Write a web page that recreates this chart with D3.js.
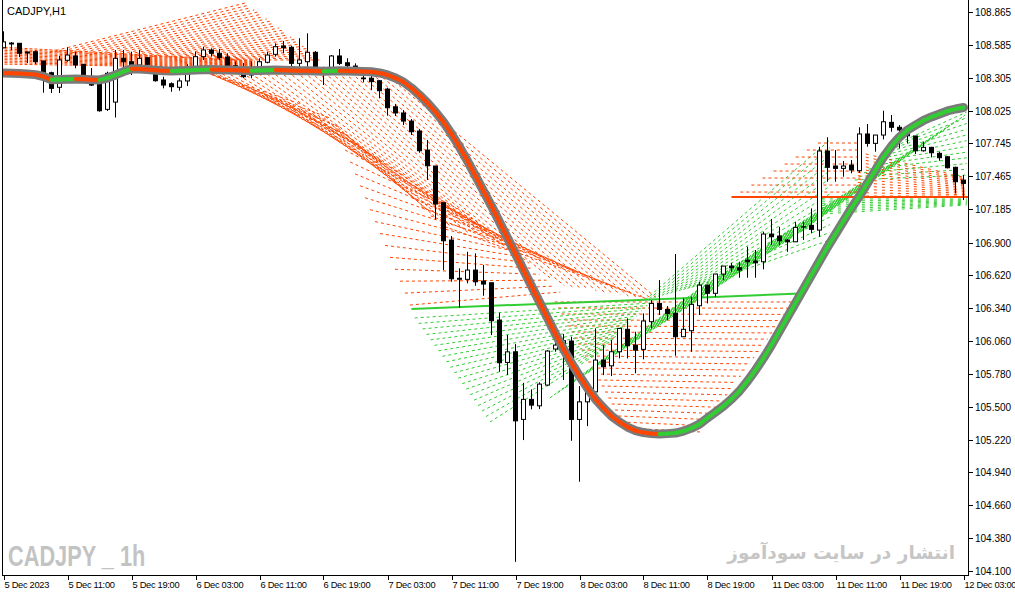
<!DOCTYPE html>
<html><head><meta charset="utf-8">
<script src="https://cdn.jsdelivr.net/npm/d3@7"></script>
<style>body{margin:0;background:#fff}svg{display:block}</style></head>
<body>
<svg id="c" width="1015" height="596"></svg>
<script>
// ---------------- data ----------------
const timeLabels=["5 Dec 2023","5 Dec 11:00","5 Dec 19:00","6 Dec 03:00","6 Dec 11:00","6 Dec 19:00","7 Dec 03:00","7 Dec 11:00","7 Dec 19:00","8 Dec 03:00","8 Dec 11:00","8 Dec 19:00","11 Dec 03:00","11 Dec 11:00","11 Dec 19:00","12 Dec 03:00"];
const priceTicks=["108.865","108.585","108.305","108.025","107.745","107.465","107.185","106.900","106.620","106.340","106.060","105.780","105.500","105.220","104.940","104.660","104.380","104.100"];
const open=[108.56,108.600,108.598,108.524,108.526,108.447,108.347,108.223,108.453,108.490,108.419,108.271,108.251,108.035,108.097,108.470,108.441,108.413,108.475,108.347,108.285,108.253,108.223,108.277,108.396,108.484,108.541,108.513,108.481,108.407,108.347,108.328,108.398,108.436,108.504,108.575,108.564,108.427,108.441,108.521,108.387,108.379,108.490,108.432,108.404,108.302,108.300,108.279,108.208,108.057,108.004,107.935,107.850,107.688,107.552,107.239,106.921,106.595,106.586,106.665,106.571,106.557,106.239,105.878,105.968,105.392,105.563,105.508,105.685,105.992,106.026,106.060,105.392,105.542,105.627,105.898,105.849,105.969,106.160,106.026,105.989,106.225,106.381,106.330,106.296,106.097,106.148,106.361,106.537,106.467,106.631,106.699,106.685,106.750,106.742,106.736,106.972,106.955,106.921,106.906,107.034,107.046,107.006,107.680,107.552,107.532,107.560,107.512,107.825,107.745,107.816,107.924,107.882,107.853,107.808,107.682,107.711,107.660,107.631,107.541,107.432];
const high=[108.70,108.609,108.600,108.528,108.535,108.451,108.356,108.490,108.564,108.526,108.421,108.387,108.259,108.356,108.541,108.541,108.526,108.541,108.481,108.356,108.313,108.265,108.300,108.419,108.526,108.569,108.555,108.549,108.513,108.441,108.430,108.441,108.470,108.526,108.598,108.617,108.577,108.641,108.683,108.532,108.398,108.498,108.549,108.470,108.427,108.342,108.342,108.285,108.219,108.080,108.029,107.952,107.867,107.774,107.552,107.239,106.955,106.680,106.821,106.808,106.708,106.557,106.301,106.111,106.034,105.704,105.648,105.708,105.983,106.045,106.120,106.097,105.676,105.699,106.168,106.026,106.068,106.168,106.253,106.139,106.296,106.410,106.580,106.358,106.802,106.424,106.438,106.566,106.537,106.631,106.699,106.727,106.736,106.864,106.836,106.992,107.100,107.034,106.930,107.077,107.077,107.191,107.716,107.797,107.688,107.594,107.603,107.882,107.910,107.816,108.023,107.987,107.901,107.865,107.808,107.759,107.716,107.674,107.637,107.546,107.475];
const low=[108.555,108.541,108.481,108.430,108.421,108.177,108.174,108.174,108.441,108.385,108.313,108.234,108.015,108.021,107.965,108.328,108.328,108.396,108.398,108.271,108.214,108.185,108.194,108.234,108.387,108.456,108.484,108.456,108.398,108.387,108.302,108.300,108.385,108.427,108.484,108.513,108.398,108.398,108.398,108.356,108.242,108.370,108.413,108.390,108.334,108.265,108.200,108.129,107.981,107.978,107.901,107.816,107.665,107.433,107.097,106.665,106.566,106.344,106.552,106.531,106.446,106.111,105.798,105.770,104.178,105.216,105.478,105.480,105.676,105.969,105.728,105.210,104.861,105.335,105.627,105.770,105.762,105.912,105.912,105.785,105.904,106.168,106.282,106.239,105.935,106.094,105.969,106.282,106.381,106.438,106.580,106.651,106.600,106.600,106.600,106.671,106.878,106.878,106.821,106.906,106.921,106.978,106.949,107.418,107.418,107.461,107.490,107.495,107.716,107.674,107.779,107.844,107.703,107.745,107.654,107.674,107.626,107.597,107.532,107.319,107.262];
const close=[108.61,108.592,108.513,108.515,108.441,108.336,108.214,108.456,108.498,108.413,108.328,108.242,108.023,108.342,108.470,108.441,108.404,108.470,108.419,108.279,108.242,108.228,108.277,108.390,108.484,108.541,108.513,108.475,108.407,108.390,108.313,108.362,108.441,108.498,108.569,108.560,108.427,108.456,108.521,108.370,108.379,108.490,108.427,108.407,108.385,108.296,108.271,108.194,108.049,108.004,107.935,107.844,107.682,107.554,107.228,106.915,106.591,106.587,106.665,106.565,106.546,106.233,105.875,105.968,105.380,105.563,105.514,105.693,105.975,106.026,106.063,105.392,105.542,105.627,105.898,105.841,105.969,106.168,106.020,105.983,106.231,106.381,106.330,106.296,106.097,106.160,106.373,106.537,106.467,106.631,106.699,106.685,106.665,106.736,106.727,106.972,106.949,106.915,106.906,107.029,107.032,107.012,107.680,107.541,107.532,107.552,107.518,107.825,107.745,107.816,107.929,107.882,107.859,107.810,107.682,107.711,107.665,107.623,107.537,107.418,107.404];
// smoothed trend line (one value per bar)
const trend=[108.345,108.342,108.340,108.336,108.331,108.315,108.287,108.289,108.292,108.294,108.291,108.288,108.286,108.302,108.328,108.357,108.380,108.379,108.374,108.369,108.364,108.362,108.364,108.367,108.370,108.372,108.374,108.372,108.370,108.368,108.366,108.365,108.367,108.369,108.371,108.369,108.367,108.365,108.363,108.361,108.360,108.362,108.364,108.362,108.360,108.358,108.355,108.345,108.328,108.302,108.268,108.217,108.157,108.089,108.012,107.927,107.825,107.714,107.594,107.467,107.339,107.211,107.074,106.938,106.802,106.665,106.529,106.392,106.256,106.120,105.992,105.872,105.762,105.659,105.565,105.489,105.421,105.370,105.327,105.297,105.280,105.271,105.267,105.271,105.276,105.293,105.318,105.352,105.404,105.455,105.506,105.565,105.634,105.719,105.813,105.915,106.026,106.145,106.265,106.384,106.503,106.623,106.742,106.861,106.972,107.083,107.194,107.296,107.407,107.518,107.629,107.722,107.799,107.859,107.901,107.940,107.970,107.995,108.021,108.038,108.051];
// straight levels: [startBar, startPrice, endBar, endPrice]
const levelUp=[51,106.333,99.6,106.465];
const levelDown=[91,107.288,120.6,107.288];
// projection fans: from-edge and to-edge as [bar,price] polylines, line count, direction, kind
const fanFrom=[
 [[5.8,108.524],[28.6,108.456]],
 [[-0.5,108.566],[-0.5,108.421]],
 [[23.9,108.387],[37.1,108.353],[47.7,108.336]],
 [[23.9,108.387],[40.8,107.944],[54.6,107.049]],
 [[42.7,107.688],[50.8,106.367]],
 [[68.9,106.393],[77.7,105.319]],
 [[51.4,106.257],[60.8,105.370]],
 [[68.3,105.575],[99.6,106.990]],
 [[80.2,106.410],[87.1,106.538]],
 [[106.4,107.433],[112.7,107.774]],
 [[92.1,107.330],[101.8,107.748]],
 [[106.8,107.671],[106.8,107.296]],
 [[102.3,107.271],[102.3,107.143]]
];
const fanTo=[
 [[30.2,108.941],[39.8,108.456]],
 [[31.4,108.447],[31.4,108.387]],
 [[37.1,108.081],[69.6,106.538],[82.1,106.401]],
 [[40.8,107.961],[54.6,107.075],[80.8,106.410]],
 [[58.3,107.134],[69.6,106.478]],
 [[98.9,106.393],[87.1,105.285]],
 [[80.8,106.384],[74.6,105.967]],
 [[87.1,106.512],[120.2,107.987]],
 [[103.3,107.774],[103.3,106.921]],
 [[120.4,107.475],[120.4,108.012]],
 [[107.1,107.330],[107.1,107.748]],
 [[120.4,107.450],[120.4,107.296]],
 [[120.4,107.271],[120.4,107.220]]
];
const fanCount=[26,12,26,24,14,22,20,34,14,12,8,14,8];
const fanDir=["down","down","down","down","down","down","up","up","up","up","down","down","up"];
const fanKind=["ray","band","ray","band","ray","ray","ray","band","ray","ray","ray","hatch","hatch"];

// ---------------- drawing ----------------
const svg=d3.select("#c");
const x=d3.scaleLinear().domain([0,120]).range([3.5,963.5]);
const y=d3.scaleLinear().domain([104.066,108.967]).range([575,0]);
const ORANGE="#FF4500",GREEN="#32CD32",GRAY="#7a7a7a";
const col=d=>d==="up"?GREEN:ORANGE;
const dashOf={ray:"3,3",band:"3,2",hatch:"3,5"};

svg.append("clipPath").attr("id","clip").append("rect").attr("x",3).attr("y",0).attr("width",965).attr("height",575);
const g=svg.append("g").attr("clip-path","url(#clip)");

// fans
function along(poly,t){
  const m=poly.length-1,s=t*m,k=Math.min(Math.floor(s),m-1),f=s-k,a=poly[k],b=poly[k+1];
  return [a[0]+(b[0]-a[0])*f,a[1]+(b[1]-a[1])*f];
}
fanFrom.forEach((fr,k)=>{
  const to=fanTo[k],n=fanCount[k];
  const lines=d3.range(n).map(j=>{const t=j/(n-1);return [along(fr,t),along(to,t)];});
  g.append("g").selectAll("line").data(lines).join("line")
   .attr("x1",d=>x(d[0][0])).attr("y1",d=>y(d[0][1]))
   .attr("x2",d=>x(d[1][0])).attr("y2",d=>y(d[1][1]))
   .attr("stroke",col(fanDir[k])).attr("stroke-width",1).attr("stroke-dasharray",dashOf[fanKind[k]]);
});
// levels
[[levelUp,"up"],[levelDown,"down"]].forEach(([l,d])=>{
  g.append("line").attr("x1",x(l[0])).attr("y1",y(l[1])).attr("x2",x(l[2])).attr("y2",y(l[3]))
   .attr("stroke",col(d)).attr("stroke-width",2);
});
// candles
const idx=d3.range(open.length);
const cg=g.append("g");
cg.selectAll("line.w").data(idx).join("line").attr("class","w")
  .attr("x1",i=>x(i)).attr("x2",i=>x(i)).attr("y1",i=>y(high[i])).attr("y2",i=>y(low[i]))
  .attr("stroke","#000").attr("stroke-width",1);
cg.selectAll("rect").data(idx).join("rect")
  .attr("x",i=>x(i)-2).attr("width",4)
  .attr("y",i=>y(Math.max(open[i],close[i])))
  .attr("height",i=>Math.max(0.01,Math.abs(y(open[i])-y(close[i]))))
  .attr("fill",i=>close[i]>=open[i]?"#fff":"#000")
  .attr("stroke","#000").attr("stroke-width",1);
// trend line
const ln=d3.line().x((d,i)=>x(i)).y(d=>y(d));
g.append("path").attr("d",ln(trend)).attr("fill","none").attr("stroke",GRAY).attr("stroke-width",9).attr("stroke-linejoin","round").attr("stroke-linecap","round");
const segs=d3.range(1,trend.length).map(i=>({i,up:trend[i]>=trend[i-1]}));
g.append("g").selectAll("line").data(segs).join("line")
  .attr("x1",d=>x(d.i-1)).attr("y1",d=>y(trend[d.i-1])).attr("x2",d=>x(d.i)).attr("y2",d=>y(trend[d.i]))
  .attr("stroke",d=>d.up?GREEN:ORANGE).attr("stroke-width",4).attr("stroke-linecap","round");

// frame
svg.append("line").attr("x1",2.5).attr("x2",2.5).attr("y1",0).attr("y2",575.5).attr("stroke","#000");
svg.append("line").attr("x1",968.5).attr("x2",968.5).attr("y1",0).attr("y2",575.5).attr("stroke","#000");
svg.append("line").attr("x1",2).attr("x2",969).attr("y1",575.5).attr("y2",575.5).attr("stroke","#000");

// price axis
const pa=svg.append("g");
priceTicks.forEach(t=>{
  const yy=Math.round(y(+t))+0.5;
  pa.append("line").attr("x1",969).attr("x2",973).attr("y1",yy).attr("y2",yy).attr("stroke","#000");
  pa.append("text").attr("x",975).attr("y",yy).attr("dy","0.35em").text(t)
    .attr("font-family","Liberation Sans, Arial, sans-serif").attr("font-size",10).attr("fill","#000");
});
// time axis
const ta=svg.append("g");
timeLabels.forEach((t,k)=>{
  const xx=Math.round(x(k*8))+0.5;
  ta.append("line").attr("x1",xx).attr("x2",xx).attr("y1",575).attr("y2",580).attr("stroke","#000");
  ta.append("text").attr("x",xx).attr("y",588).text(t)
    .attr("font-family","Liberation Sans, sans-serif").attr("font-size",9.3).attr("letter-spacing","-0.3").attr("fill","#000");
});
// titles / watermarks
svg.append("text").attr("x",7).attr("y",15).text("CADJPY,H1").attr("font-family","Liberation Sans, sans-serif").attr("font-size",11).attr("fill","#000");
svg.append("text").attr("transform","translate(8,566) scale(0.75,1)").text("CADJPY _ 1h").attr("font-family","Liberation Sans, sans-serif").attr("font-weight","bold").attr("font-size",29).attr("fill","#c3c3c3");
svg.append("text").attr("x",955).attr("y",559).attr("text-anchor","end").text("انتشار در سایت سودآموز").attr("font-family","DejaVu Sans, sans-serif").attr("font-weight","bold").attr("font-size",18.5).attr("fill","#c6c6c6");
</script>
</body></html>
